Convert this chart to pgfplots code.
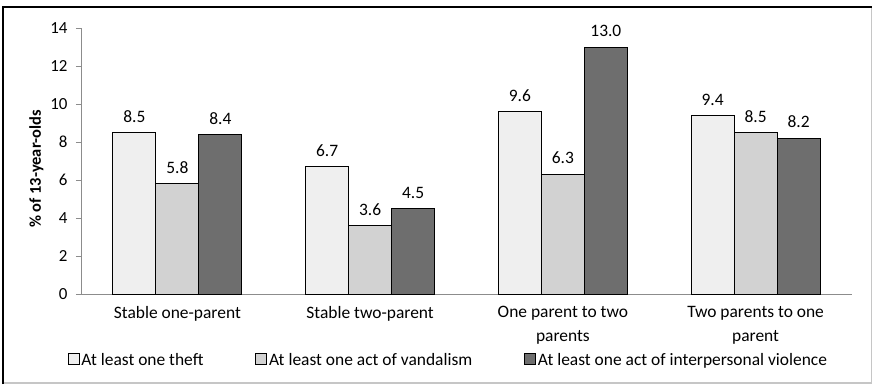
\documentclass[border=0pt]{standalone}
\usepackage{pgfplots}
\pgfplotsset{compat=1.18}
\usepackage{fontspec}
\setmainfont{Carlito}
\definecolor{cA}{HTML}{EFEFEF}
\definecolor{cB}{HTML}{D2D2D2}
\definecolor{cC}{HTML}{6E6E6E}
\definecolor{axg}{HTML}{8C8C8C}
\begin{document}
\begin{tikzpicture}
\useasboundingbox (0,0) rectangle (873bp,-385bp);
\fill[white] (0,0) rectangle (873bp,-385bp);
\draw[gray!45, line width=1.2bp] (3bp,-7bp) rectangle (871.5bp,-383bp);
\draw[black, line width=2.5bp] (3bp,-384bp) -- (3bp,-7bp) -- (872bp,-7bp);
\begin{axis}[
  at={(81bp,-294bp)}, anchor=south west,
  scale only axis, width=771bp, height=266bp,
  ybar=0pt, bar width=43bp,
  xmin=-0.5, xmax=3.5, ymin=0, ymax=14,
  ytick={0,2,...,14},
  axis x line*=bottom, axis y line*=left,
  axis line style={axg, line width=0.8bp},
  every tick/.style={axg, line width=0.8bp},
  tick align=outside, major tick length=5bp,
  /pgf/number format/assume math mode=true,
  yticklabel style={font=\fontsize{17}{20}\selectfont, xshift=-5bp},
  xtick={0,1,2,3},
  xticklabels={Stable one-parent, Stable two-parent, {One parent to two\\parents}, {Two parents to one\\parent}},
  xticklabel style={font=\fontsize{17.5}{23.5}\selectfont, align=center, yshift=-4bp},
  major x tick style={draw=none},
  extra x ticks={-0.5,0.5,1.5,2.5,3.5},
  extra x tick labels={},
  extra x tick style={major tick length=5bp, tick style={axg, draw=axg}},
  ylabel={\textbf{\% of 13-year-olds}},
  ylabel style={font=\fontsize{16.5}{19}\selectfont, at={(ticklabel cs:0.5)}, xshift=-8bp},
  nodes near coords={\pgfmathprintnumber[fixed, fixed zerofill, precision=1]{\pgfplotspointmeta}},
  every node near coord/.append style={font=\fontsize{17.5}{20}\selectfont, black, yshift=6.5bp},
  legend style={at={(0.4766,-0.2486)}, anchor=center, draw=none, fill=none,
    font=\fontsize{17.5}{20}\selectfont, legend columns=3,
    /tikz/every even column/.append style={column sep=50bp}},
  legend cell align=left,
  legend image code/.code={\draw[#1, draw=black, line width=0.6bp] (0bp,-4.5bp) rectangle (11bp,6.5bp);},
]
\addplot[fill=cA, draw=black, line width=0.8bp] coordinates {(0,8.5) (1,6.7) (2,9.6) (3,9.4)};
\addplot[fill=cB, draw=black, line width=0.8bp] coordinates {(0,5.8) (1,3.6) (2,6.3) (3,8.5)};
\addplot[fill=cC, draw=black, line width=0.8bp] coordinates {(0,8.4) (1,4.5) (2,13.0) (3,8.2)};
\legend{At least one theft, At least one act of vandalism, At least one act of interpersonal violence}
\end{axis}
\end{tikzpicture}
\end{document}
